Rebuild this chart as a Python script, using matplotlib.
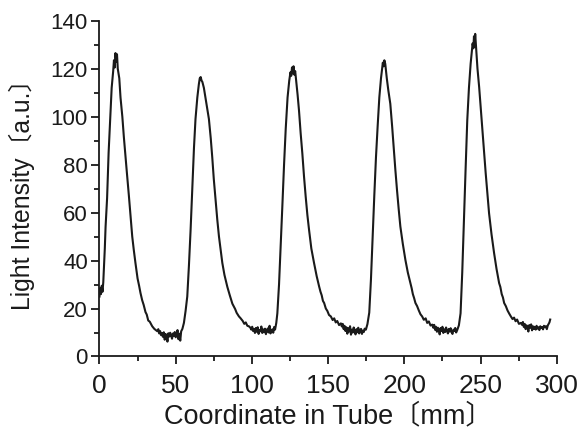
import matplotlib
matplotlib.use('Agg')
from matplotlib import pyplot as plt
from matplotlib.ticker import MultipleLocator

coord_mm = [
    0, 0.5, 1.0, 1.5, 2.0, 2.5, 3.0, 3.5, 4.0, 5.0, 6.0, 7.0, 8.0, 9.0, 9.5, 10.0, 10.5, 11.0, 11.5, 12.0, 13.0,
    13.8, 15.0, 16.0, 17.1, 18.0, 19.3, 20.5, 21.5, 22.5, 23.6, 25.0, 26.0, 26.9, 28.0, 29.0, 30.2, 31.0, 32.0, 33.0, 34.6, 36.0,
    38.0, 38.6, 39.2, 39.8, 40.4, 41.0, 41.6, 42.2, 42.8, 43.4, 44.0, 44.6, 45.2, 45.8, 46.4, 47.0, 47.6, 48.2, 48.8, 49.4,
    50.0, 50.6, 51.2, 51.8, 52.4, 53.0, 53.6,
    54.4, 55.4, 56.5, 57.6, 58.7, 59.8, 61.0, 62.0, 63.0, 64.2, 65.2, 65.8, 66.4, 67.0, 67.5, 68.5, 69.5, 70.5, 71.8,
    73.0, 74.0, 75.0, 76.2, 77.3, 78.4, 79.5, 80.6, 82.0, 83.9, 85.5, 87.2, 88.0, 89.0, 90.0, 91.5, 92.5, 94.0, 95.0, 96.0, 97.0, 98.0,
    99.0, 99.6, 100.2, 100.8, 101.4, 102.0, 102.6, 103.2, 103.8, 104.4, 105.0, 105.6, 106.2, 106.8, 107.4, 108.0,
    108.6, 109.2, 109.8, 110.4, 111.0, 111.6, 112.2, 112.8, 113.4, 114.0, 114.6, 115.2,
    116.0, 116.7, 117.8, 118.9, 120.0, 121.1, 122.2, 123.4, 124.5, 125.3, 125.8, 126.3, 126.8, 127.3, 127.8, 128.4, 129.2,
    130.0, 130.9, 132.0, 133.1, 134.2, 135.3, 136.4, 137.5, 139.0, 140.8, 142.5, 144.1, 145.0, 145.8, 146.6, 147.4, 148.5,
    149.5, 150.6, 151.8, 153.0, 154.0, 155.0, 156.0, 157.2, 158.4,
    159.0, 159.6, 160.2, 160.8, 161.4, 162.0, 162.6, 163.2, 163.8, 164.4, 165.0, 165.6, 166.2, 166.8, 167.4, 168.0,
    168.6, 169.2, 169.8, 170.4, 171.0, 171.6, 172.2, 172.8, 173.4, 174.0, 174.8,
    175.8, 177.0, 178.1, 179.2, 180.3, 181.4, 182.5, 183.6, 184.7, 185.4, 185.9, 186.4, 186.9, 187.5, 188.5, 189.5,
    190.8, 192.0, 193.0, 194.1, 195.2, 196.3, 197.4, 199.0, 200.7, 202.3, 204.0, 204.8, 205.6, 206.4, 207.3, 208.4,
    209.5, 210.6, 211.7, 212.8, 214.0, 215.0, 216.1, 217.2, 218.3,
    219.0, 219.6, 220.2, 220.8, 221.4, 222.0, 222.6, 223.2, 223.8, 224.4, 225.0, 225.6, 226.2, 226.8, 227.4, 228.0,
    228.6, 229.2, 229.8, 230.4, 231.0, 231.6, 232.2, 232.8, 233.4, 234.0, 234.7,
    235.8, 236.9, 238.0, 239.1, 240.2, 241.3, 242.4, 243.5, 244.3, 244.8, 245.3, 245.7, 246.1, 246.5, 246.9, 247.3, 248.0,
    249.1, 250.2, 251.3, 252.4, 253.4, 254.5, 255.6, 257.2, 258.9, 260.5, 262.2, 263.0, 263.9, 264.7, 265.5, 266.6,
    267.7, 268.8, 269.9, 271.0, 272.0, 273.0, 274.0, 275.2, 276.5,
    277.2, 277.8, 278.4, 279.0, 279.6, 280.2, 280.8, 281.4, 282.0, 282.6, 283.2, 283.8, 284.4, 285.0, 285.6, 286.2,
    286.8, 287.4, 288.0, 288.6, 289.2, 289.8, 290.4, 291.0, 291.6, 292.2, 292.9, 293.5, 294.1, 294.7, 295.2, 295.7,
]
intensity = [
    25.0, 28.5, 26.0, 29.5, 27.0, 31.0, 38.0, 45.0, 54.0, 66.0, 85.0, 99.0, 112.0, 119.0, 123.5, 120.5, 126.5, 123.0, 126.0, 120.0, 116.0,
    108.0, 100.0, 91.5, 83.0, 76.5, 67.0, 57.5, 50.0, 44.5, 39.0, 32.5, 29.5, 26.5, 23.5, 21.5, 18.5, 17.5, 15.0, 14.5, 12.6, 11.5,
    10.5, 11.4, 9.6, 10.6, 8.9, 9.8, 8.2, 10.1, 7.0, 9.4, 8.6, 6.2, 9.7, 8.3, 9.9, 8.8, 7.4, 9.6, 8.5, 10.2,
    8.0, 9.1, 11.0, 7.2, 9.5, 6.6, 10.5,
    11.5, 14.0, 19.0, 25.0, 38.0, 53.0, 72.0, 87.0, 99.0, 108.0, 113.5, 116.0, 116.5, 115.0, 114.5, 112.0, 108.0, 104.0, 99.0,
    91.0, 83.0, 74.0, 65.0, 57.0, 50.0, 44.5, 39.0, 34.0, 29.0, 25.5, 22.0, 21.0, 19.8, 18.2, 16.7, 16.0, 14.8, 13.6, 14.2, 12.8, 12.6,
    12.0, 11.2, 12.4, 10.6, 11.5, 9.8, 11.9, 10.3, 12.2, 9.4, 11.0, 10.5, 12.5, 9.8, 11.3, 10.1,
    11.6, 9.3, 10.8, 11.7, 10.0, 12.8, 9.6, 10.9, 11.3, 9.9, 12.3, 11.2,
    14.0, 18.0, 30.0, 46.0, 63.0, 80.0, 95.0, 108.0, 115.0, 118.5, 117.0, 120.5, 118.0, 121.0, 117.5, 119.0, 114.0,
    109.0, 102.6, 93.0, 84.6, 75.0, 66.6, 59.0, 52.8, 45.0, 38.9, 33.5, 29.2, 27.0, 25.5, 23.2, 22.3, 20.0,
    19.0, 17.3, 16.7, 15.2, 15.9, 14.2, 14.8, 13.1, 13.8,
    12.5, 13.6, 11.4, 12.8, 10.6, 12.2, 9.5, 11.8, 10.4, 12.6, 9.1, 11.2, 10.0, 12.1, 10.5, 9.2,
    11.4, 10.1, 12.0, 9.6, 10.9, 11.5, 9.4, 10.8, 10.2, 11.6, 11.2,
    13.5, 18.3, 32.0, 50.0, 67.0, 83.0, 96.0, 108.0, 116.0, 120.0, 122.5, 121.0, 123.5, 122.0, 116.0, 111.0,
    105.4, 96.0, 87.4, 78.0, 69.4, 61.5, 54.2, 47.0, 40.3, 35.0, 30.6, 28.5, 26.0, 24.4, 22.3, 21.0,
    19.2, 17.6, 16.7, 15.3, 15.9, 14.0, 14.6, 12.9, 13.3,
    12.0, 13.2, 11.1, 12.4, 10.3, 12.0, 11.0, 9.2, 11.9, 10.6, 12.4, 9.8, 11.3, 10.2, 12.1, 10.7,
    9.6, 11.5, 10.4, 11.8, 10.1, 9.4, 11.2, 10.6, 11.9, 10.0, 11.0,
    13.0, 18.0, 35.0, 57.0, 78.0, 98.5, 112.0, 122.0, 127.0, 130.5, 128.5, 133.5, 129.0, 134.5, 130.5, 127.0, 120.0,
    112.3, 103.0, 94.3, 85.0, 76.3, 68.0, 59.7, 51.0, 43.1, 36.5, 30.6, 29.0, 26.0, 24.6, 22.3, 21.0,
    19.2, 17.9, 16.7, 15.6, 16.2, 14.7, 15.4, 13.6, 14.0,
    13.2, 14.4, 12.3, 13.6, 11.4, 13.0, 11.9, 10.4, 13.1, 12.0, 13.4, 10.9, 12.6, 11.5, 12.4, 11.2,
    12.8, 11.6, 12.2, 11.0, 12.6, 11.9, 12.3, 11.3, 12.8, 12.2, 12.6, 11.4, 12.9, 13.6, 14.2, 15.4,
]

x_ticks = [0, 50, 100, 150, 200, 250, 300]
y_ticks = [0, 20, 40, 60, 80, 100, 120, 140]

# Latin text in Liberation Sans, the Japanese brackets fall back to Noto Sans CJK JP
plt.rcParams['font.family'] = ['Liberation Sans', 'Noto Sans CJK JP']

ink = '#1a1a1a'

fig = plt.figure(figsize=(5.8, 4.32), dpi=100)
ax = fig.add_axes([0.1715, 0.1748, 0.7884, 0.7773])

ax.plot(coord_mm, intensity, color=ink, linewidth=1.5)

ax.set_xlim(0, 300)
ax.set_ylim(0, 140)
ax.set_xticks(x_ticks)
ax.set_yticks(y_ticks)
ax.xaxis.set_minor_locator(MultipleLocator(25))
ax.yaxis.set_minor_locator(MultipleLocator(10))

for side in ['top', 'right']:
    ax.spines[side].set_visible(False)
for side in ['left', 'bottom']:
    ax.spines[side].set_linewidth(1.3)
    ax.spines[side].set_color(ink)

ax.tick_params(axis='both', which='major', direction='out', length=5.8, width=1.3, color=ink, labelcolor=ink)
ax.tick_params(axis='both', which='minor', direction='out', length=3.6, width=1.3, color=ink)
ax.tick_params(axis='x', labelsize=19, pad=7)
ax.tick_params(axis='y', labelsize=16, pad=2.5)

ax.set_xlabel('Coordinate in Tube〔mm〕', fontsize=19.5, labelpad=4, color=ink)
ax.set_ylabel('Light Intensity〔a.u.〕', fontsize=17.8, labelpad=11, color=ink)

fig.savefig('out.png', dpi=100)
